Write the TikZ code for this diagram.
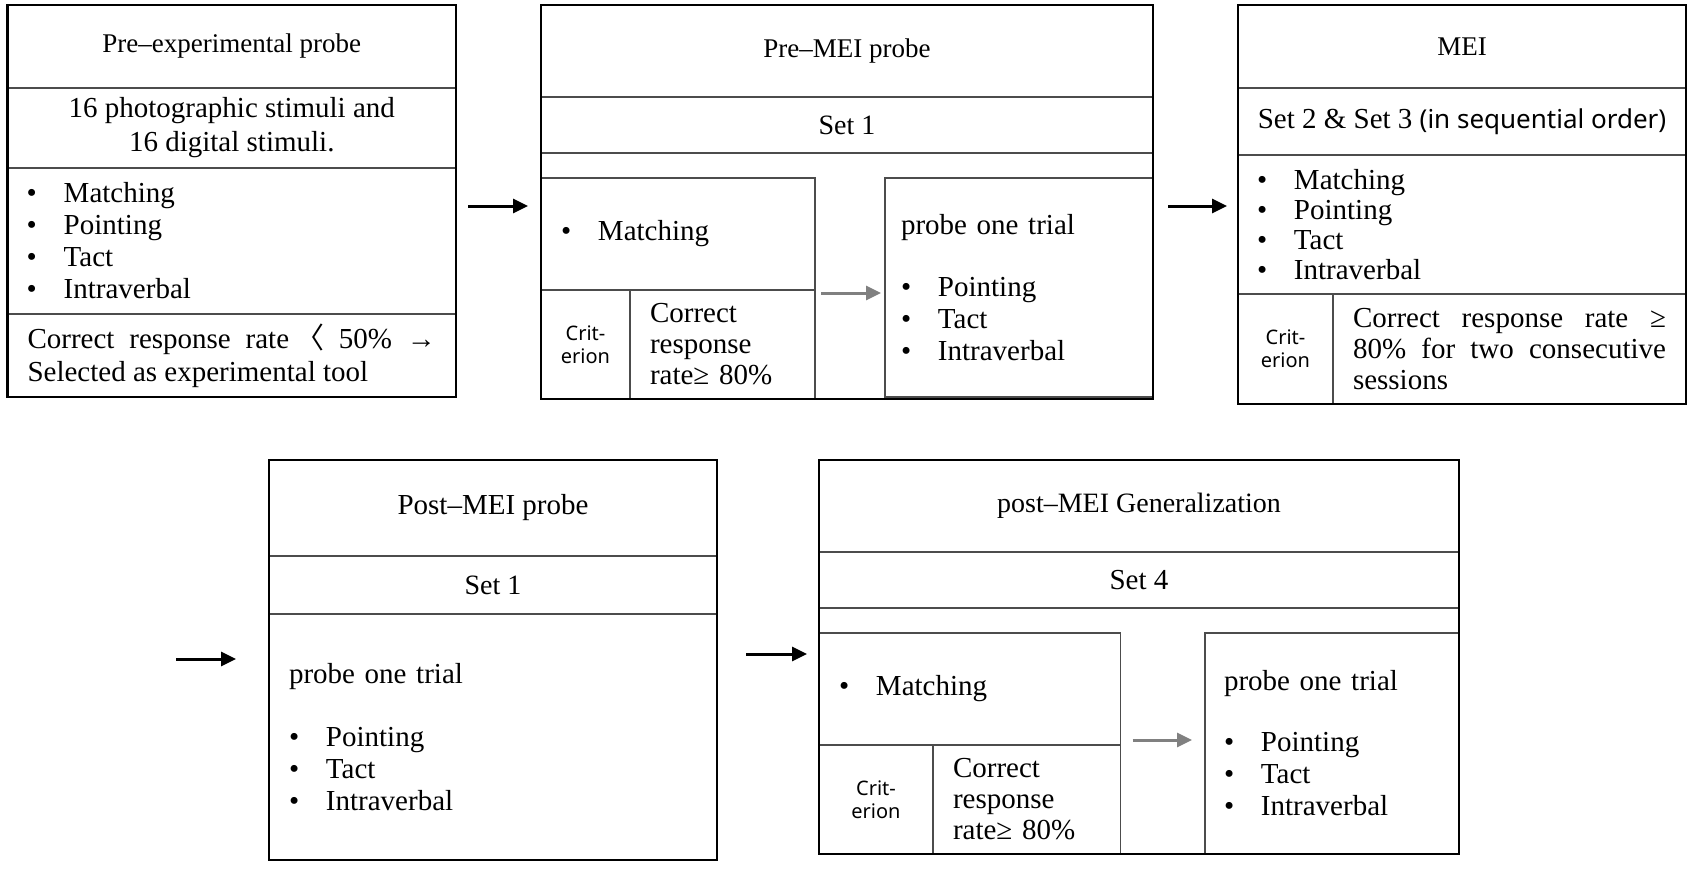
\documentclass[tikz,border=0pt]{standalone}
\usepackage{fontspec}
\setmainfont{Liberation Serif}
\setsansfont{Noto Sans}
\newfontfamily\cjkfont{Noto Sans CJK KR}
\usetikzlibrary{arrows.meta}

\newcommand{\bodyfont}{\fontsize{29}{32}\selectfont}
\newcommand{\headfont}{\fontsize{27}{30}\selectfont}
\newcommand{\critfont}{\sffamily\fontsize{20}{23}\selectfont}
\newcommand{\bulletitem}[1]{\makebox[37pt][l]{\textbullet}#1}

\tikzstyle{outer} = [rectangle, draw, line width=2.8pt, anchor=north west,
    inner sep=0pt, outer sep=0pt]
\tikzstyle{cell} = [rectangle, draw=black!70, line width=1.6pt, anchor=north west,
    inner sep=0pt, outer sep=0pt, align=center, font=\bodyfont]
\tikzstyle{head} = [cell, font=\headfont]
\tikzstyle{items} = [cell, align=left, inner xsep=20pt]
\tikzstyle{crit} = [cell, font=\critfont]
\tikzstyle{flow} = [->, line width=3pt]
\tikzstyle{subflow} = [->, line width=3pt, black!50]

\begin{document}
\begin{tikzpicture}[x=1pt, y=-1pt, >={Triangle[length=15pt,width=14pt]}]
    \useasboundingbox (0,0) rectangle (1691,868);

    % Pre-experimental probe
    \node [head, minimum width=448.5pt, minimum height=83pt] (preHead) at (7.5,5) {Pre--experimental probe};
    \node [cell, minimum width=448.5pt, minimum height=80pt, font=\fontsize{29}{34}\selectfont] (preStim) at (preHead.south west) {16 photographic stimuli and\\16 digital stimuli.};
    \node [items, text width=410pt, inner xsep=19.25pt, minimum height=146pt] (preList) at (preStim.south west)
        {\bulletitem{Matching}\\\bulletitem{Pointing}\\\bulletitem{Tact}\\\bulletitem{Intraverbal}};
    \node [items, align=justify, text width=408.5pt, minimum height=83pt, font=\fontsize{29}{33}\selectfont] (preCrit) at (preList.south west)
        {Correct response rate \kern-9pt{\cjkfont 〈} 50\% →\linebreak Selected as experimental tool};
    \node [outer, minimum width=448.5pt, minimum height=392pt] (pre) at (7.5,5) {};

    % Pre-MEI probe
    \node [head, minimum width=612pt, minimum height=92pt] (premeiHead) at (541,5) {Pre--MEI probe};
    \node [cell, minimum width=612pt, minimum height=56pt, font=\fontsize{28}{32}\selectfont] (premeiSet) at (premeiHead.south west) {Set 1};
    \node [items, text width=234pt, minimum height=112pt] (premeiMatch) at (541,178) {\bulletitem{Matching}};
    \node [crit, minimum width=89pt, minimum height=109pt] (premeiCritLabel) at (premeiMatch.south west) {Crit-\\erion};
    \node [items, text width=145pt, minimum height=109pt, font=\fontsize{29}{31}\selectfont] (premeiCritText) at (premeiCritLabel.north east)
        {Correct\\response\\rate≥ 80\%};
    \node [items, text width=236pt, inner xsep=16pt, minimum height=219pt] (premeiProbe) at (885,178)
        {probe one trial\\[30pt]\bulletitem{Pointing}\\\bulletitem{Tact}\\\bulletitem{Intraverbal}};
    \node [outer, minimum width=612pt, minimum height=394pt] (premei) at (541,5) {};

    % MEI
    \node [head, minimum width=448pt, minimum height=83pt] (meiHead) at (1238,5) {MEI};
    \node [cell, minimum width=448pt, minimum height=67pt] (meiSet) at (meiHead.south west)
        {Set 2 \& Set 3 {\sffamily\fontsize{26}{30}\selectfont(in sequential order)}};
    \node [items, text width=410pt, inner xsep=19pt, minimum height=139pt, font=\fontsize{29}{30}\selectfont] (meiList) at (meiSet.south west)
        {\bulletitem{Matching}\\\bulletitem{Pointing}\\\bulletitem{Tact}\\\bulletitem{Intraverbal}};
    \node [crit, minimum width=95pt, minimum height=110pt] (meiCritLabel) at (meiList.south west) {Crit-\\erion};
    \node [items, align=justify, text width=313pt, minimum height=110pt, font=\fontsize{29}{31}\selectfont] (meiCritText) at (meiCritLabel.north east)
        {Correct response rate ≥\linebreak 80\% for two consecutive\linebreak sessions};
    \node [outer, minimum width=448pt, minimum height=399pt] (mei) at (1238,5) {};

    % Post-MEI probe
    \node [head, minimum width=448pt, minimum height=96pt, font=\fontsize{29}{32}\selectfont] (postmeiHead) at (269,460) {Post--MEI probe};
    \node [cell, minimum width=448pt, minimum height=58pt, font=\fontsize{28}{32}\selectfont] (postmeiSet) at (postmeiHead.south west) {Set 1};
    \node [items, text width=408pt, minimum height=246pt] (postmeiProbe) at (postmeiSet.south west)
        {probe one trial\\[31pt]\bulletitem{Pointing}\\\bulletitem{Tact}\\\bulletitem{Intraverbal}};
    \node [outer, minimum width=448pt, minimum height=400pt] (postmei) at (269,460) {};

    % post-MEI Generalization
    \node [head, minimum width=640pt, minimum height=92pt, font=\fontsize{28}{32}\selectfont] (genHead) at (819,460) {post--MEI Generalization};
    \node [cell, minimum width=640pt, minimum height=56pt] (genSet) at (genHead.south west) {Set 4};
    \node [items, text width=261.5pt, minimum height=112pt] (genMatch) at (819,633) {\bulletitem{Matching}};
    \node [crit, minimum width=114pt, minimum height=109pt] (genCritLabel) at (genMatch.south west) {Crit-\\erion};
    \node [items, text width=147.5pt, minimum height=109pt, font=\fontsize{29}{31}\selectfont] (genCritText) at (genCritLabel.north east)
        {Correct\\response\\rate≥ 80\%};
    \node [items, text width=216pt, inner xsep=19pt, minimum height=221pt] (genProbe) at (1205,633)
        {probe one trial\\[29pt]\bulletitem{Pointing}\\\bulletitem{Tact}\\\bulletitem{Intraverbal}};
    \node [outer, minimum width=640pt, minimum height=394pt] (gen) at (819,460) {};

    % Connections
    \draw [flow, shorten <=12pt, shorten >=13pt] ([yshift=-5pt]pre.east) -- ([yshift=-5pt]pre.east -| premei.west);
    \draw [flow, shorten <=15pt, shorten >=11pt] ([yshift=-4pt]premei.east) -- ([yshift=-4pt]premei.east -| mei.west);
    \coordinate (wrap) at (176,659);
    \draw [flow, shorten >=33pt] (wrap) -- (wrap -| postmei.west);
    \draw [flow, shorten <=29pt, shorten >=12pt] ([yshift=6pt]postmei.east) -- ([yshift=6pt]postmei.east -| gen.west);
    \draw [subflow, shorten <=6pt, shorten >=4pt] ([yshift=-3pt]premeiCritText.north east) -- ([yshift=-3pt]premeiCritText.north east -| premeiProbe.west);
    \draw [subflow, shorten <=12pt, shorten >=13pt] ([yshift=5pt]genCritText.north east) -- ([yshift=5pt]genCritText.north east -| genProbe.west);

\end{tikzpicture}
\end{document}
